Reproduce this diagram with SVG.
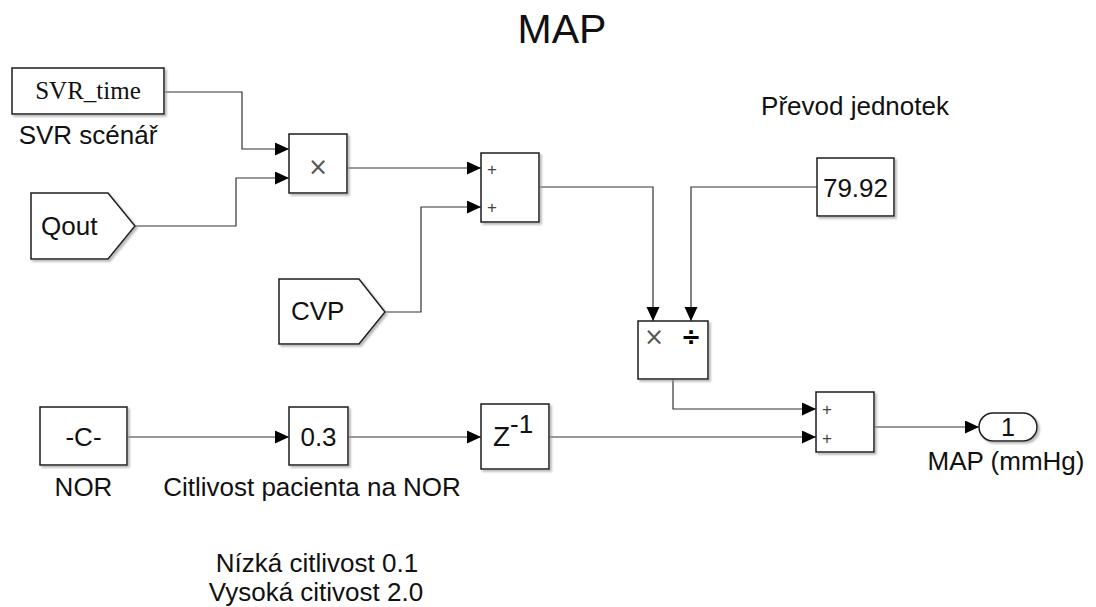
<svg xmlns="http://www.w3.org/2000/svg" width="1096" height="607" viewBox="0 0 1096 607">
<style>
.blk{fill:#fff;stroke:#1a1a1a;stroke-width:1.5;filter:url(#sh)}
.t{font-family:"Liberation Sans",Arial,sans-serif;font-size:26px;fill:#111}
.c{text-anchor:middle}
.s{font-family:"Liberation Serif","Times New Roman",serif;font-size:25px;fill:#111}
.op{font-family:"Liberation Sans",Arial,sans-serif;font-size:17px;fill:#444}
.x{font-family:"DejaVu Sans",sans-serif;font-size:24px;fill:#555;font-weight:normal}
.w{fill:none;stroke:#333;stroke-width:1.2}
</style>
<defs>
<filter id="sh" x="-10%" y="-10%" width="130%" height="130%">
<feDropShadow dx="2" dy="2" stdDeviation="1" flood-color="#999" flood-opacity="0.7"/>
</filter>
<marker id="ar" markerUnits="userSpaceOnUse" markerWidth="15" markerHeight="14" refX="14" refY="6.5" orient="auto">
<path d="M0,0 L14,6.5 L0,13 z" fill="#000"/>
</marker>
</defs>
<rect width="1096" height="607" fill="#fff"/>
<text class="t c" x="562" y="43" style="font-size:41px">MAP</text>

<g id="connectors">
<path class="w" marker-end="url(#ar)" d="M164,92 H242 V149 H289"/>
<path class="w" marker-end="url(#ar)" d="M135,226 H236 V178 H289"/>
<path class="w" marker-end="url(#ar)" d="M347,168 H481"/>
<path class="w" marker-end="url(#ar)" d="M385,312 H421 V207 H481"/>
<path class="w" marker-end="url(#ar)" d="M539,187 H653 V321"/>
<path class="w" marker-end="url(#ar)" d="M817,187 H691 V321"/>
<path class="w" marker-end="url(#ar)" d="M673,379 V409 H816"/>
<path class="w" marker-end="url(#ar)" d="M127,437 H289"/>
<path class="w" marker-end="url(#ar)" d="M348,437 H481"/>
<path class="w" marker-end="url(#ar)" d="M549,437 H816"/>
<path class="w" marker-end="url(#ar)" d="M874,427 H979"/>
</g>

<g id="svr_time">
<rect class="blk" x="12" y="68" width="152" height="46"/>
<text class="s c" x="88" y="99">SVR_time</text>
<text class="t c" x="88" y="144">SVR scénář</text>
</g>

<g id="qout">
<polygon class="blk" points="31,193 108,193 135,226 108,259 31,259"/>
<text class="t" x="41" y="235">Qout</text>
</g>

<g id="product">
<rect class="blk" x="289" y="134" width="58" height="59"/>
<text class="x c" x="318" y="175">×</text>
</g>

<g id="sum1">
<rect class="blk" x="481" y="153" width="58" height="69"/>
<text class="op c" x="492" y="175">+</text>
<text class="op c" x="492" y="213">+</text>
</g>

<g id="cvp">
<polygon class="blk" points="279,279 359,279 385,312 359,344 279,344"/>
<text class="t" x="291" y="320">CVP</text>
</g>

<g id="konst">
<rect class="blk" x="817" y="158" width="77" height="58"/>
<text class="t c" x="855.5" y="197">79.92</text>
<text class="t c" x="855" y="115">Převod jednotek</text>
</g>

<g id="divide">
<rect class="blk" x="638" y="321" width="70" height="58"/>
<text class="x c" x="654" y="345">×</text>
<text class="c" x="691" y="345" style="font-family:'DejaVu Sans',sans-serif;font-size:24px;font-weight:bold;fill:#000">÷</text>
</g>

<g id="nor">
<rect class="blk" x="40" y="407" width="87" height="58"/>
<text class="t c" x="83.5" y="446">-C-</text>
<text class="t c" x="83.5" y="496">NOR</text>
</g>

<g id="gain">
<rect class="blk" x="289" y="407" width="59" height="58"/>
<text class="t c" x="318.5" y="446">0.3</text>
<text class="t c" x="312" y="496">Citlivost pacienta na NOR</text>
</g>

<g id="delay">
<rect class="blk" x="481" y="404" width="68" height="65"/>
<text class="t" x="493" y="446" style="font-size:28px">Z<tspan dy="-13" style="font-size:26px">-1</tspan></text>
</g>

<g id="sum2">
<rect class="blk" x="816" y="392" width="58" height="60"/>
<text class="op c" x="827" y="415">+</text>
<text class="op c" x="827" y="444">+</text>
</g>

<g id="outport">
<rect class="blk" x="979" y="413" width="58" height="28" rx="14" ry="14"/>
<text class="t c" x="1008" y="436" style="font-size:25px">1</text>
<text class="t c" x="1006" y="470">MAP (mmHg)</text>
</g>

<g id="note">
<text class="t c" x="317" y="572">Nízká citlivost 0.1</text>
<text class="t c" x="316" y="601">Vysoká citivost 2.0</text>
</g>
</svg>
